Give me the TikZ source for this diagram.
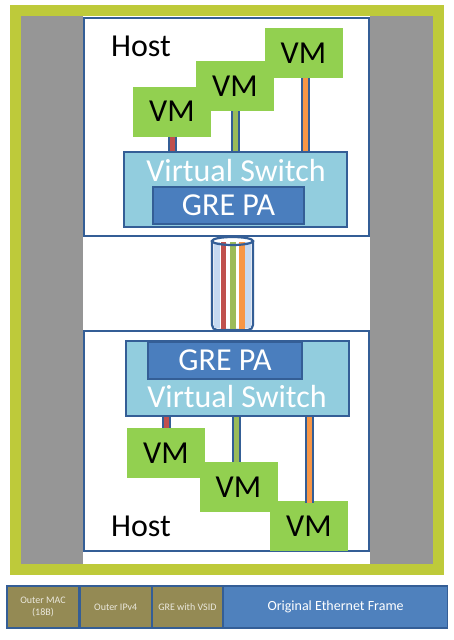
\documentclass[tikz,border=0pt]{standalone}
\usepackage{fontspec}
\setmainfont{Carlito}
\usetikzlibrary{positioning}

\definecolor{framegreen}{RGB}{190,202,58}
\definecolor{sidegrey}{RGB}{150,150,150}
\definecolor{edgeblue}{RGB}{52,94,150}
\definecolor{switchblue}{RGB}{146,205,222}
\definecolor{greblue}{RGB}{74,126,190}
\definecolor{vmgreen}{RGB}{146,208,80}
\definecolor{linkred}{RGB}{192,80,77}
\definecolor{linkgreen}{RGB}{155,187,89}
\definecolor{linkorange}{RGB}{247,150,70}
\definecolor{tubeblue}{RGB}{198,217,241}
\definecolor{cellolive}{RGB}{148,138,84}
\definecolor{framebar}{RGB}{79,129,189}

\begin{document}
\begin{tikzpicture}[x=1pt,y=-1pt,
    bigtext/.style={font=\fontsize{32}{32}\selectfont},
    hostbox/.style={draw=edgeblue,line width=2pt,fill=white,minimum width=285pt,inner sep=0pt},
    vm/.style={fill=vmgreen,minimum width=78pt,minimum height=50pt,inner sep=0pt,bigtext},
    vswitch/.style={draw=edgeblue,line width=2pt,fill=switchblue,minimum width=223pt,minimum height=75pt,inner sep=0pt},
    gre/.style={draw=edgeblue,line width=1.5pt,fill=greblue,text=white,minimum height=37pt,inner sep=0pt,bigtext},
    link/.style={draw=edgeblue,line width=2pt,double=#1,double distance=5pt},
    stripe/.style={line width=5.5pt,#1},
    cell/.style={draw=edgeblue,line width=1.2pt,fill=cellolive,text=white!80!cellolive,
      minimum height=42pt,inner sep=0pt,align=center,font=\fontsize{10}{11.5}\selectfont},
    node distance=0pt]

  \useasboundingbox (0,0) rectangle (454,640);

  % Rahmen und Hintergrund
  \fill[framegreen] (10,5) rectangle (444,575);
  \fill[sidegrey] (21,16) rectangle (433,564);
  \fill[white] (83,16) rectangle (370,564);

  % oberer Host
  \node[hostbox,minimum height=218pt] (hostA) at (226.5,127) {};
  \node[bigtext] (hostAtext) at (141,46) {Host};

  \node[vm] (vmA3) at (303.5,53) {VM};
  \node[vm] (vmA2) at (235,86) {VM};
  \node[vm] (vmA1) at (172,111.5) {VM};

  \node[vswitch] (swA) at (235.5,189.5) {};
  \node[bigtext,text=white] (swAtext) at (236,171) {Virtual Switch};
  \node[gre,minimum width=151pt] (greA) at (228.5,205.5) {GRE PA};

  \draw[link=linkred] (vmA1.south) -- (vmA1.south |- swA.north);
  \draw[link=linkgreen] (vmA2.south) -- (vmA2.south |- swA.north);
  \draw[link=linkorange] ([xshift=1.5pt]vmA3.south) -- ([xshift=1.5pt]vmA3.south |- swA.north);

  % unterer Host
  \node[hostbox,minimum height=220pt] (hostB) at (226.5,441) {};
  \node[bigtext] (hostBtext) at (141,526) {Host};

  \node[vswitch] (swB) at (237.5,378.5) {};
  \node[gre,minimum width=154pt] (greB) at (225,360.5) {GRE PA};
  \node[bigtext,text=white] (swBtext) at (237,397) {Virtual Switch};

  \node[vm] (vmB1) at (166,453) {VM};
  \node[vm] (vmB2) at (238.5,487) {VM};
  \node[vm] (vmB3) at (309,526) {VM};

  \draw[link=linkred] (vmB1.north) -- (vmB1.north |- swB.south);
  \draw[link=linkgreen] ([xshift=-2pt]vmB2.north) -- ([xshift=-2pt]vmB2.north |- swB.south);
  \draw[link=linkorange] ([yshift=-2pt]vmB3.north) -- (vmB3.north |- swB.south);

  % Tunnel zwischen den Hosts
  \draw[edgeblue,line width=2.2pt,fill=white,rounded corners=5pt]
    (212,241) -- (hostB.north -| 212,0) -- (hostB.north -| 253,0) -- (253,241);
  \draw[stripe=tubeblue] (217,242) -- (217,328);
  \draw[stripe=linkred] (223.5,242) -- (223.5,329);
  \draw[stripe=linkgreen] (233,242) -- (233,329);
  \draw[stripe=linkorange] (242,242) -- (242,329);
  \draw[stripe=tubeblue] (248,242) -- (248,328);
  \draw[edgeblue,line width=2.2pt] (232.5,241) ellipse (20.5 and 4);

  % Paketformat
  \node[cell,minimum width=72pt] (outermac) at (43,607) {Outer MAC\\(18B)};
  \node[cell,minimum width=71pt,right=of outermac] (outerip) {Outer IPv4};
  \node[cell,minimum width=70pt,right=of outerip] (grevsid) {GRE with VSID};
  \node[cell,minimum width=224pt,right=of grevsid,fill=framebar,text=white,
    font=\fontsize{14}{16}\selectfont] (origframe) {Original Ethernet Frame};

\end{tikzpicture}
\end{document}
